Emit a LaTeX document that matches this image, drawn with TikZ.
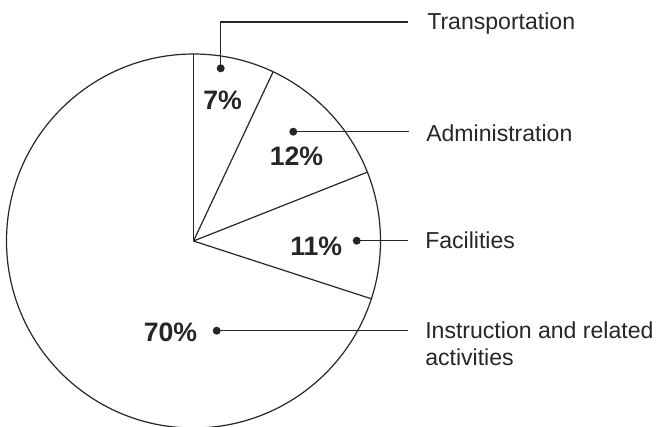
\documentclass[tikz,border=0pt]{standalone}
\usepackage{fontspec}
\setmainfont{Liberation Sans}
\usetikzlibrary{calc}
\begin{document}
\begin{tikzpicture}[x=0.75pt,y=-0.75pt,
  edge/.style={line width=0.8pt,black!85},
  piece/.style={line width=0.9pt,black!85},
  dot/.style={circle,fill=black!85,inner sep=0pt,minimum size=6pt},
  lab/.style={anchor=base west,inner sep=0pt,font=\fontsize{17.3}{20.5}\selectfont,text=black!85},
  pct/.style={anchor=base west,inner sep=0pt,font=\bfseries\fontsize{20}{24}\selectfont,text=black!85}]
\useasboundingbox (0,0) rectangle (661,426);
\begin{scope}
\clip (0,0) rectangle (661,426);
\coordinate (c) at (193.5,241);
\draw[piece] (c) circle[radius=187];
\foreach \a/\n in {90/a,64.8/b,21.6/d,-18/e}{
  \coordinate (r\n) at ($(c)+({187*cos(\a)},{-187*sin(\a)})$);
  \draw[piece] (c) -- (r\n);
}
\end{scope}
% percentage labels
\node[pct] (p7) at (203,109.5) {7\%};
\node[pct] (p12) at (269.5,165.7) {12\%};
\node[pct] (p11) at (290,255) {11\%};
\node[pct] (p70) at (143.5,341.7) {70\%};
% dots
\node[dot] (dT) at (220.7,68.3) {};
\node[dot] (dA) at (293.3,131.7) {};
\node[dot] (dF) at (356.7,240.7) {};
\node[dot] (dI) at (216.7,330.7) {};
% labels
\node[lab] (tT) at (427,29) {Transportation};
\node[lab] (tA) at (426,141.7) {Administration};
\node[lab] (tF) at (425,248.3) {Facilities};
\node[lab] (tI) at (425,338.3) {Instruction and related};
\node[lab] (tI2) at (425,365) {activities};
% leaders
\coordinate (eT) at (408,22);
\coordinate (eA) at (409,131.7);
\coordinate (eF) at (408,240.7);
\coordinate (eI) at (408,330.7);
\draw[edge] (dT.center) |- (eT);
\draw[edge] (dA.center) -- (eA);
\draw[edge] (dF.center) -- (eF);
\draw[edge] (dI.center) -- (eI);
\end{tikzpicture}
\end{document}
